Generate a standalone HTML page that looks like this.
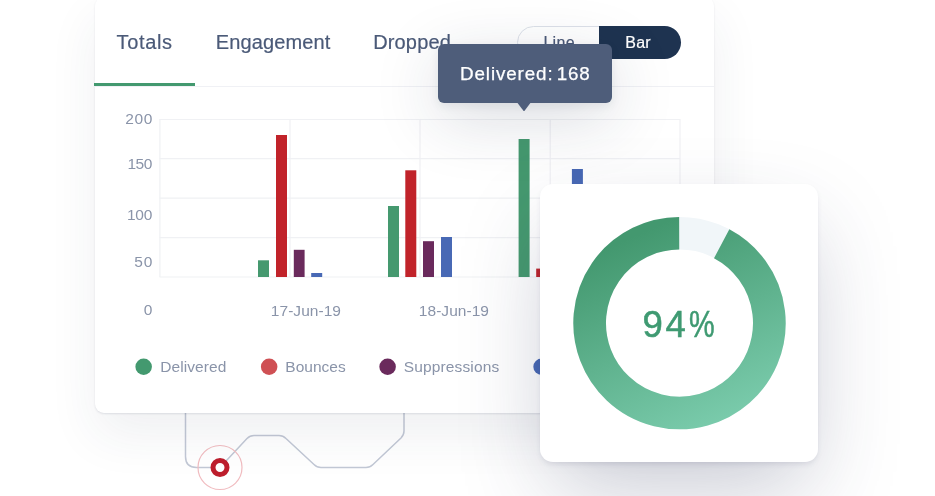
<!DOCTYPE html>
<html lang="en">
<head>
<meta charset="utf-8">
<title>Analytics</title>
<style>
*{box-sizing:border-box;margin:0;padding:0}
html,body{width:935px;height:496px;overflow:hidden;background:#fff}
body{position:relative;font-family:"Liberation Sans",Arial,sans-serif;color:#4b5a78}
.abs{position:absolute}
.t{position:absolute;white-space:nowrap;line-height:1}
#card{left:94.5px;top:-3px;width:619.5px;height:416.3px;background:#fff;border-radius:9px;
 box-shadow:0 1px 2px rgba(40,52,84,.12),0 22px 50px rgba(40,52,84,.075)}
#deco{left:0;top:0;width:935px;height:496px}
.tab{font-size:20px;color:#4b5a78;top:32.1px;-webkit-text-stroke:.2px #4b5a78}
#uline{left:94px;top:83px;width:101px;height:3px;background:#43996f}
#divider{left:94px;top:86px;width:620px;height:1px;background:#f0f1f5}
#toggle{left:517px;top:26px;width:164px;height:33px;border-radius:17px;border:1px solid #dde1e9;background:#fff}
#bar{left:599px;top:26px;width:82px;height:33px;border-radius:0 17px 17px 0;background:#1e3350}
.tg{font-size:16px;top:35px;-webkit-text-stroke:.2px currentColor}
#tip{left:438.2px;top:44.4px;width:174px;height:58.7px;border-radius:6px;background:#4e5d7a;
 box-shadow:0 16px 64px rgba(30,40,70,.17),0 3px 10px rgba(30,40,70,.08)}
#tiparrow{left:517.2px;top:102.6px;width:13.6px;height:8.8px;background:#4e5d7a;clip-path:polygon(0 0,100% 0,50% 100%)}
#tiptext{font-size:18.8px;color:#fff;left:460px;top:64.6px;letter-spacing:.9px;word-spacing:-3px;-webkit-text-stroke:.25px #fff}
.yl{font-size:15.5px;color:#8a94a9;right:782.1px;text-align:right;letter-spacing:.6px}
.xl{font-size:15.5px;color:#8a94a9;top:302.6px;letter-spacing:.05px}
.lg{font-size:15.5px;color:#8a94a9;top:358.6px}
#dcard{left:540px;top:184px;width:278px;height:277.5px;background:#fff;border-radius:13px;
 box-shadow:0 3px 6px -2px rgba(50,50,93,.16),0 36px 90px -12px rgba(44,52,88,.27)}
#pct{font-size:36.5px;color:#3f9a72;left:642.4px;top:307px;letter-spacing:2.7px;-webkit-text-stroke:.55px #3f9a72}
#pct i{font-style:normal;display:inline-block;transform:scaleX(.79);transform-origin:0 50%;letter-spacing:0;margin-left:.9px}
</style>
</head>
<body>
<svg id="deco" class="abs" viewBox="0 0 935 496">
 <path d="M185.5 410 V456.5 Q185.5 467.5 196.5 467.5 H220 L247 438.5 Q250 435.5 254 435.5 H279 Q283 435.5 286 438.5 L314 464.5 Q317 467.5 321 467.5 H366 Q370 467.5 373 464.5 L401 438 Q404 435 404 431 V410" fill="none" stroke="#c2c8d5" stroke-width="1.5"/>
 <circle cx="220" cy="467.5" r="22" fill="none" stroke="#f1bcc0" stroke-width="1.2"/>
 <circle cx="220" cy="467.5" r="7" fill="#fff" stroke="#be1e2d" stroke-width="5"/>
</svg>

<div id="card" class="abs"></div>

<div class="t tab" style="left:116.6px;letter-spacing:.65px">Totals</div>
<div class="t tab" style="left:215.7px;letter-spacing:.13px">Engagement</div>
<div class="t tab" style="left:373.2px;letter-spacing:.15px">Dropped</div>
<div id="divider" class="abs"></div>
<div id="uline" class="abs"></div>

<div id="toggle" class="abs"></div>
<div id="bar" class="abs"></div>
<div class="t tg" style="left:543.4px;color:#4b5a78;letter-spacing:.3px">Line</div>
<div class="t tg" style="left:625.3px;color:#fff;letter-spacing:.2px">Bar</div>

<svg class="abs" style="left:0;top:0" width="935" height="496" viewBox="0 0 935 496">
 <g stroke="#f0f1f4" stroke-width="1.2" fill="none">
  <path d="M159.5 119.5H680M159.5 158.6H680M159.5 198.1H680M159.5 237.7H680M159.5 277H680"/>
  <path d="M159.9 119V277M290 119V277M420 119V277M550.2 119V277M680 119V277"/>
 </g>
 <g>
  <rect x="258" y="260.3" width="11" height="16.7" fill="#45996f"/>
  <rect x="276" y="135" width="11" height="142" fill="#c1232a"/>
  <rect x="293.8" y="249.8" width="10.8" height="27.2" fill="#6a2a5c"/>
  <rect x="311.2" y="273" width="11" height="4" fill="#4869b5"/>

  <rect x="388" y="206" width="11" height="71" fill="#45996f"/>
  <rect x="405.3" y="170.3" width="11" height="106.7" fill="#c1232a"/>
  <rect x="423" y="241.2" width="11" height="35.8" fill="#6a2a5c"/>
  <rect x="441" y="237" width="11" height="40" fill="#4869b5"/>

  <rect x="518.6" y="139" width="11" height="138" fill="#45996f"/>
  <rect x="536.2" y="268.6" width="11" height="8.4" fill="#c1232a"/>
  <rect x="571.9" y="169" width="11" height="108" fill="#4869b5"/>
 </g>
 <g>
  <circle cx="143.65" cy="366.75" r="8.25" fill="#43996f"/>
  <circle cx="269.15" cy="366.75" r="8.25" fill="#cf5054"/>
  <circle cx="387.6" cy="366.75" r="8.25" fill="#6a2a5c"/>
  <circle cx="541.6" cy="366.75" r="8.25" fill="#4869b5"/>
 </g>
</svg>

<div class="t yl" style="top:110.6px">200</div>
<div class="t yl" style="top:155.8px;letter-spacing:-.5px;right:783.2px">150</div>
<div class="t yl" style="top:206.6px;letter-spacing:-.3px;right:783px">100</div>
<div class="t yl" style="top:253.7px;letter-spacing:.7px;right:782px">50</div>
<div class="t yl" style="top:301.8px">0</div>

<div class="t xl" style="left:270.8px">17-Jun-19</div>
<div class="t xl" style="left:418.8px">18-Jun-19</div>

<div class="t lg" style="left:160.3px;letter-spacing:.06px">Delivered</div>
<div class="t lg" style="left:285.3px;letter-spacing:.02px">Bounces</div>
<div class="t lg" style="left:403.8px;letter-spacing:.13px">Suppressions</div>

<div id="tip" class="abs"></div>
<div id="tiparrow" class="abs"></div>
<div id="tiptext" class="t">Delivered: 168</div>

<div id="dcard" class="abs"></div>
<svg class="abs" style="left:541px;top:184px" width="277" height="278" viewBox="541 184 277 278">
 <defs>
  <linearGradient id="gg" gradientUnits="userSpaceOnUse" x1="639.7" y1="233.7" x2="726.8" y2="429.3">
   <stop offset="0" stop-color="#43986f"/>
   <stop offset="1" stop-color="#7ccdae"/>
  </linearGradient>
 </defs>
 <circle cx="679.5" cy="323.1" r="89.85" fill="none" stroke="#f1f6f9" stroke-width="32.7"/>
 <path d="M721.68 243.77 A89.85 89.85 0 1 1 679.20 233.25" fill="none" stroke="url(#gg)" stroke-width="32.7"/>
</svg>
<div id="pct" class="t">94<i>%</i></div>
</body>
</html>
